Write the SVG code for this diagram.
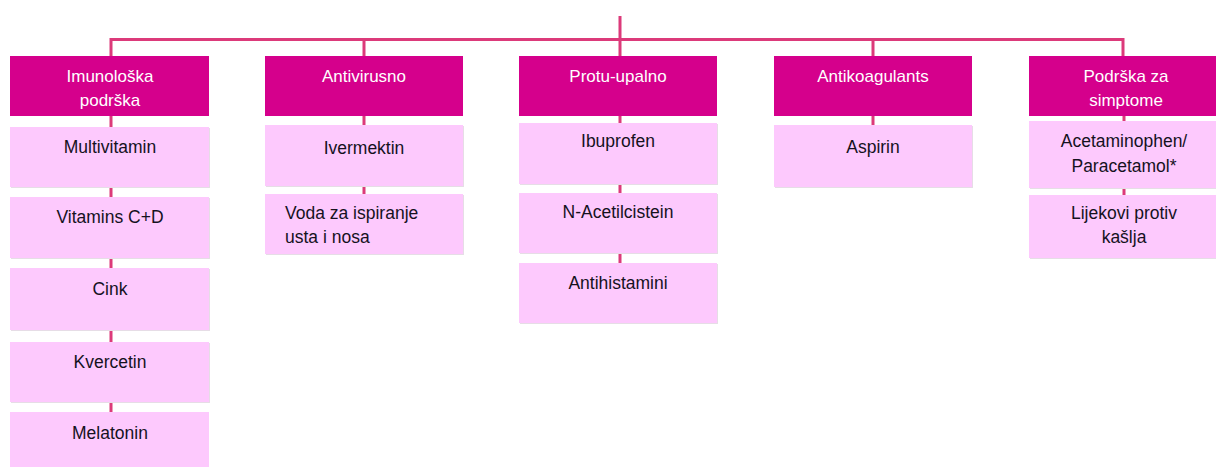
<svg xmlns="http://www.w3.org/2000/svg" width="1216" height="467" viewBox="0 0 1216 467">
<style>
.hd{fill:#d5008c;}
.ch{fill:#fdc9fd;}
.sh{fill:#e6dde6;}
.ht{font-family:"Liberation Sans",Arial,sans-serif;font-size:17px;fill:#ffffff;text-anchor:middle;}
.ct{font-family:"Liberation Sans",Arial,sans-serif;font-size:17.5px;fill:#15121e;text-anchor:middle;}
.lt{text-anchor:start;}
.cn{stroke:#dc3a7a;stroke-width:3;fill:none;}
</style>
<rect width="1216" height="467" fill="#ffffff"/>
<g id="connectors">
<path class="cn" d="M620 16V57M111 58V39.5H1123V57M364 39.5V57M873 39.5V57"/>
<path class="cn" d="M111 116V412M364 116V194M620 116V263M873 116V125M1124 116V195"/>
</g>
<g id="h1"><rect class="hd" x="10" y="56" width="199" height="60"/><text class="ht" x="110" y="82">Imunološka</text><text class="ht" x="110" y="106">podrška</text></g>
<g id="h2"><rect class="hd" x="265" y="56" width="198" height="60"/><text class="ht" x="364" y="82">Antivirusno</text></g>
<g id="h3"><rect class="hd" x="519" y="56" width="198" height="60"/><text class="ht" x="618" y="82">Protu-upalno</text></g>
<g id="h4"><rect class="hd" x="774" y="56" width="198" height="60"/><text class="ht" x="873" y="82">Antikoagulants</text></g>
<g id="h5"><rect class="hd" x="1029" y="56" width="188" height="60"/><text class="ht" x="1126" y="82">Podrška za</text><text class="ht" x="1126" y="106">simptome</text></g>

<g id="c1a"><rect class="sh" x="11" y="128" width="199" height="60"/><rect class="ch" x="10" y="127" width="199" height="60"/><text class="ct" x="110" y="153">Multivitamin</text></g>
<g id="c1b"><rect class="sh" x="11" y="198" width="199" height="61"/><rect class="ch" x="10" y="197" width="199" height="61"/><text class="ct" x="110" y="223">Vitamins C+D</text></g>
<g id="c1c"><rect class="sh" x="11" y="269" width="199" height="62"/><rect class="ch" x="10" y="268" width="199" height="62"/><text class="ct" x="110" y="295">Cink</text></g>
<g id="c1d"><rect class="sh" x="11" y="343" width="199" height="60"/><rect class="ch" x="10" y="342" width="199" height="60"/><text class="ct" x="110" y="368">Kvercetin</text></g>
<g id="c1e"><rect class="ch" x="10" y="412" width="199" height="60"/><text class="ct" x="110" y="439">Melatonin</text></g>

<g id="c2a"><rect class="sh" x="266" y="126" width="198" height="61"/><rect class="ch" x="265" y="125" width="198" height="61"/><text class="ct" x="364" y="154">Ivermektin</text></g>
<g id="c2b"><rect class="sh" x="266" y="195" width="198" height="60"/><rect class="ch" x="265" y="194" width="198" height="60"/><text class="ct lt" x="285" y="219">Voda za ispiranje</text><text class="ct lt" x="285" y="243">usta i nosa</text></g>

<g id="c3a"><rect class="sh" x="520" y="124" width="198" height="61"/><rect class="ch" x="519" y="123" width="198" height="61"/><text class="ct" x="618" y="147">Ibuprofen</text></g>
<g id="c3b"><rect class="sh" x="520" y="194" width="198" height="60"/><rect class="ch" x="519" y="193" width="198" height="60"/><text class="ct" x="618" y="218">N-Acetilcistein</text></g>
<g id="c3c"><rect class="sh" x="520" y="264" width="198" height="60"/><rect class="ch" x="519" y="263" width="198" height="60"/><text class="ct" x="618" y="289">Antihistamini</text></g>

<g id="c4a"><rect class="sh" x="775" y="126" width="198" height="62"/><rect class="ch" x="774" y="125" width="198" height="62"/><text class="ct" x="873" y="153">Aspirin</text></g>

<g id="c5a"><rect class="sh" x="1030" y="122" width="188" height="67"/><rect class="ch" x="1029" y="121" width="188" height="67"/><text class="ct" x="1124" y="147">Acetaminophen/</text><text class="ct" x="1124" y="172">Paracetamol*</text></g>
<g id="c5b"><rect class="sh" x="1030" y="196" width="188" height="63"/><rect class="ch" x="1029" y="195" width="188" height="63"/><text class="ct" x="1124" y="219">Lijekovi protiv</text><text class="ct" x="1124" y="243">kašlja</text></g>
</svg>
